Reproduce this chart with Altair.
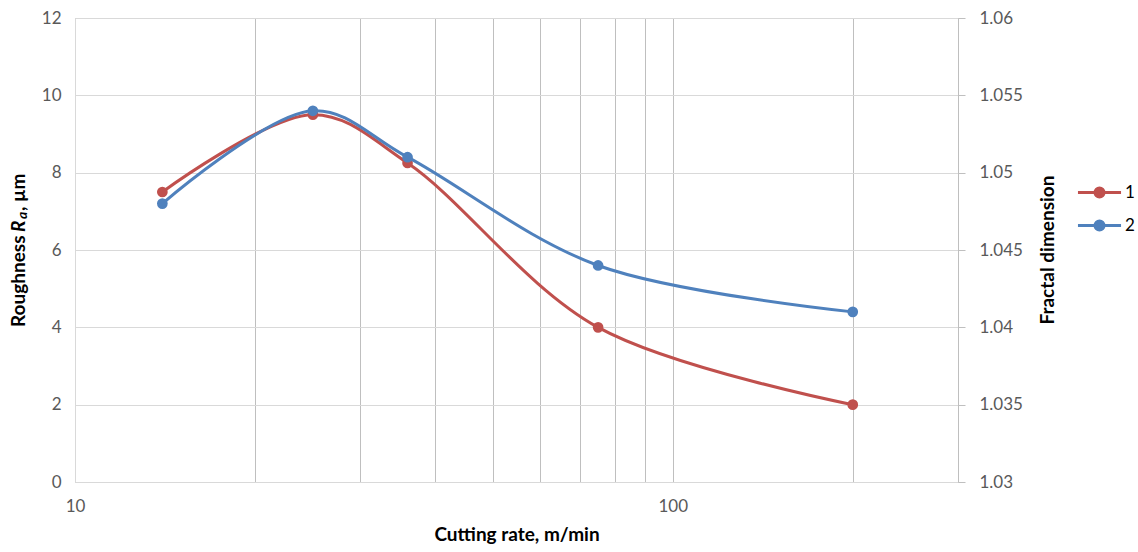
import altair as alt
import pandas as pd

# ---- data ----
rate = [14, 25, 36, 75, 200]                      # cutting rate, m/min
roughness = [7.5, 9.5, 8.25, 4.0, 2.0]            # series 1 (left axis)
fractal = [1.048, 1.054, 1.051, 1.044, 1.041]     # series 2 (right axis)
series_names = ["1", "2"]
series_colors = ["#C0504D", "#4F81BD"]
x_grid_values = [10, 20, 30, 40, 50, 60, 70, 80, 90, 100, 200, 300]
x_label_values = [10, 100]
y_left_ticks = [0, 2, 4, 6, 8, 10, 12]
y_right_ticks = [1.03, 1.035, 1.04, 1.045, 1.05, 1.055, 1.06]

df1 = pd.DataFrame({"rate": rate, "value": roughness, "series": series_names[0]})
df2 = pd.DataFrame({"rate": rate, "value": fractal, "series": series_names[1]})

FONT = "Lato"
LABEL_COLOR = "#595959"
LABEL_SIZE = 17
TITLE_SIZE = 19

label_test = " || ".join(f"datum.value == {v}" for v in x_label_values)
x_enc = alt.X(
    "rate:Q",
    scale=alt.Scale(type="log", domain=[10, 300]),
    axis=alt.Axis(
        values=x_grid_values,
        labelExpr=f"({label_test}) ? datum.label : ''",
        labelFlush=False,
        grid=True,
        gridColor="#BFBFBF",
        gridWidth=1,
        ticks=False,
        domainColor="#D9D9D9",
        labelFont=FONT,
        labelFontSize=LABEL_SIZE,
        labelColor=LABEL_COLOR,
        labelPadding=16,
        title="Cutting rate, m/min",
        titleFont=FONT,
        titleFontSize=TITLE_SIZE,
        titleFontWeight="bold",
        titleColor="#000000",
        titlePadding=11,
    ),
)

color_scale = alt.Scale(domain=series_names, range=series_colors)

legend_symbol = "M-4,0H4M-0.84,0A0.84,0.84 0 1,1 0.84,0A0.84,0.84 0 1,1 -0.84,0Z"
color_legend = alt.Legend(
    title=None,
    orient="none",
    legendX=1016,
    legendY=166,
    symbolType=legend_symbol,
    symbolSize=116,
    symbolStrokeWidth=3,
    symbolOpacity=1,
    labelOffset=17,
    labelFont=FONT,
    labelFontSize=LABEL_SIZE,
    labelColor="#000000",
    rowPadding=10,
    padding=0,
)

y_left = alt.Y(
    "value:Q",
    scale=alt.Scale(domain=[0, 12]),
    axis=alt.Axis(
        values=y_left_ticks,
        grid=True,
        gridColor="#D9D9D9",
        ticks=False,
        domainColor="#D9D9D9",
        labelFont=FONT,
        labelFontSize=LABEL_SIZE,
        labelColor=LABEL_COLOR,
        labelPadding=14,
        title=None,
    ),
)

y_right = alt.Y(
    "value:Q",
    scale=alt.Scale(domain=[1.03, 1.06]),
    axis=alt.Axis(
        orient="right",
        values=y_right_ticks,
        format=".3~f",
        grid=False,
        ticks=True,
        tickSize=7,
        tickColor="#BFBFBF",
        domainColor="#BFBFBF",
        labelFont=FONT,
        labelFontSize=LABEL_SIZE,
        labelColor=LABEL_COLOR,
        labelPadding=14,
        title=None,
    ),
)

line_props = dict(interpolate="catmull-rom", strokeWidth=3)
point_props = dict(filled=True, size=115, opacity=1)

red_line = alt.Chart(df1).mark_line(**line_props).encode(
    x=x_enc, y=y_left,
    color=alt.Color("series:N", scale=color_scale, legend=color_legend),
)
red_pts = alt.Chart(df1).mark_point(**point_props).encode(
    x=x_enc, y=y_left,
    color=alt.Color("series:N", scale=color_scale, legend=None),
)
blue_line = alt.Chart(df2).mark_line(**line_props).encode(
    x=x_enc, y=y_right,
    color=alt.Color("series:N", scale=color_scale, legend=None),
)
blue_pts = alt.Chart(df2).mark_point(**point_props).encode(
    x=x_enc, y=y_right,
    color=alt.Color("series:N", scale=color_scale, legend=None),
)

# axis titles drawn as text (left one has italic R and subscript a)
title_df = pd.DataFrame({"k": [0]})
def title_part(text, y, x=-56, size=TITLE_SIZE, style="normal", align="left"):
    return alt.Chart(title_df).mark_text(
        text=text, angle=270, align=align, baseline="middle",
        font=FONT, fontSize=size, fontWeight="bold", fontStyle=style,
        color="#000000",
    ).encode(x=alt.value(x), y=alt.value(y))

left_title = alt.layer(
    title_part("Roughness", 309),
    title_part("R", 214, style="italic"),
    title_part("a", 201, x=-52, size=14, style="italic"),
    title_part(", µm", 193),
)
right_title = title_part("Fractal dimension", 232, x=973, align="center")

chart = alt.layer(
    alt.layer(red_line, red_pts, left_title),
    alt.layer(blue_line, blue_pts, right_title),
).resolve_scale(y="independent").properties(
    width=883,
    height=464,
    autosize=alt.AutoSizeParams(type="none"),
    padding={"left": 75, "top": 18, "right": 180, "bottom": 70},
).configure_view(stroke=None).configure(background="white")

chart.save("out.html", embed_options={"renderer": "svg", "actions": False})
